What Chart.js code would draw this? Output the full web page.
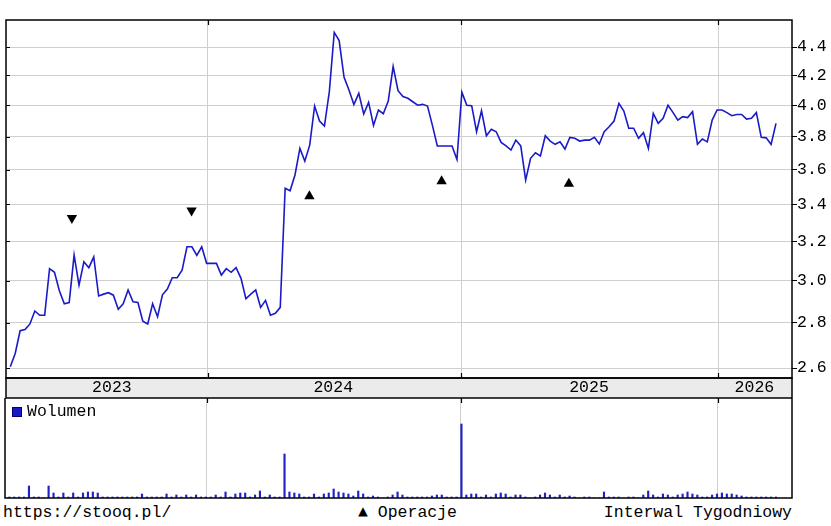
<!DOCTYPE html>
<html>
<head>
<meta charset="utf-8">
<script src="https://cdn.jsdelivr.net/npm/chart.js@4/dist/chart.umd.min.js"></script>
<style>
  html,body{margin:0;padding:0;background:#fff;}
  #wrap{position:relative;width:831px;height:526px;overflow:hidden;background:#fff;}
  .t{position:absolute;font-family:"Liberation Mono",monospace;font-size:16.5px;line-height:16.5px;color:#000;white-space:pre;}
  canvas{position:absolute;left:0;}
</style>
</head>
<body>
<div id="wrap">
  <div class="t" style="left:3px;top:2px;">ATG - 3 lata</div>
  <div class="t" style="left:0;width:831px;text-align:center;top:2px;">27 Mar 2026 18:00 UTC+2</div>
  <div class="t" style="right:39px;top:2px;">(C)Stooq</div>
  <canvas id="price" width="831" height="398" style="top:0;"></canvas>
  <canvas id="vol" width="831" height="101" style="top:398px;"></canvas>
  <div style="position:absolute;left:12px;top:407px;width:8px;height:8px;background:#1818c8;border:1px solid #000070;"></div>
  <div class="t" style="left:27px;top:404px;">Wolumen</div>
  <div class="t" style="left:3px;top:505px;">https://stooq.pl/</div>
  <div class="t" style="left:358px;top:505px;">▲ Operacje</div>
  <div class="t" style="right:39px;top:505px;">Interwal Tygodniowy</div>
</div>
<script>
// ---- data (weekly closes, ATG, last 3 years) ----
const closes = [
2.606,2.663,2.764,2.770,2.795,2.855,2.835,2.835,3.060,3.042,
2.951,2.889,2.895,3.129,2.979,3.095,3.065,3.120,2.926,2.935,
2.942,2.930,2.863,2.889,2.955,2.898,2.895,2.808,2.795,2.889,
2.828,2.932,2.960,3.015,3.015,3.053,3.172,3.172,3.128,3.172,
3.087,3.087,3.087,3.028,3.060,3.042,3.065,3.012,2.913,2.935,
2.955,2.872,2.905,2.835,2.844,2.872,3.491,3.477,3.568,3.727,
3.650,3.747,3.995,3.898,3.866,4.090,4.507,4.447,4.187,4.101,
4.005,4.079,3.943,4.019,3.870,3.969,3.945,4.028,4.262,4.097,
4.057,4.046,4.023,4.000,4.006,3.995,3.870,3.742,3.742,3.742,
3.742,3.660,4.086,4.000,3.997,3.830,3.964,3.805,3.845,3.830,
3.764,3.742,3.717,3.778,3.742,3.538,3.667,3.700,3.681,3.805,
3.772,3.752,3.767,3.723,3.795,3.789,3.772,3.778,3.778,3.795,
3.754,3.830,3.862,3.898,4.012,3.962,3.852,3.852,3.789,3.824,
3.727,3.947,3.883,3.915,4.000,3.954,3.904,3.926,3.920,3.958,
3.752,3.785,3.767,3.904,3.969,3.969,3.952,3.932,3.940,3.940,
3.910,3.915,3.952,3.795,3.792,3.752,3.883
];
const volumes = [
1,1,1,1,12,1,1,0,12,5,
1,5,1,5,1,5,6,6,5,1,
1,1,1,1,1,1,1,4,1,1,
1,1,4,1,3,1,3,1,3,1,
1,1,3,1,6,1,4,5,5,1,
3,7,1,3,1,1,44,6,5,4,
1,1,4,1,4,5,9,6,5,4,
2,7,4,1,2,1,0,1,3,6,
3,1,1,1,1,1,2,3,3,1,
1,1,74,3,4,4,1,3,1,4,
5,4,1,3,3,1,0,1,3,5,
3,1,3,1,2,1,0,1,1,0,
0,6,1,1,1,0,1,1,0,3,
7,3,1,4,3,1,3,4,6,4,
3,1,1,3,4,5,4,4,3,2,
1,1,1,1,1,1,1
];
// operations (Operacje): week position and price level
const opSellX = [12.55, 36.93];
const opSellY = [3.325, 3.366];
const opBuyX  = [60.94, 87.87, 113.8];
const opBuyY  = [3.446, 3.532, 3.517];
// axes
const priceTicks = [2.6, 2.8, 3.0, 3.2, 3.4, 3.6, 3.8, 4.0, 4.2, 4.4];
const yearStarts = [40.22, 91.9, 144.19];
const yearNames  = ['2023', '2024', '2025', '2026'];
const yearLabelAt = [20.7, 65.8, 117.9, 151.6];
const xMin = -0.875, xMax = 159.26;
const yMin = 2.558, yMax = 4.60;

const FONT = {family: "'Liberation Mono', monospace", size: 16.5};
const GRID = '#cfcfcf';
const LINE = '#1a1ac8';

const pricePts = closes.map((v, i) => ({x: i, y: v}));
const sellPts = opSellX.map((x, i) => ({x, y: opSellY[i]}));
const buyPts = opBuyX.map((x, i) => ({x, y: opBuyY[i]}));
const volPts = volumes.map((v, i) => ({x: i, y: v}));

const framePlugin = {
  id: 'frame',
  beforeDraw(chart, args, opts) {
    const {ctx, chartArea: a} = chart;
    ctx.save();
    ctx.fillStyle = '#fff';
    ctx.fillRect(0, 0, chart.width, chart.height);
    if (opts.band) {
      ctx.fillStyle = '#ebebeb';
      ctx.fillRect(a.left, a.bottom, a.right - a.left, opts.band);
      ctx.strokeStyle = '#000';
      ctx.lineWidth = 1.5;
      ctx.strokeRect(a.left, a.bottom, a.right - a.left, opts.band);
    }
    ctx.restore();
  },
  afterDraw(chart, args, opts) {
    const {ctx, chartArea: a} = chart;
    ctx.save();
    ctx.strokeStyle = '#000';
    ctx.lineWidth = 1.5;
    ctx.strokeRect(a.left, a.top, a.right - a.left, a.bottom - a.top);
    ctx.lineWidth = 1.2;
    const xs = chart.scales.x;
    ctx.beginPath();
    yearStarts.forEach(v => {
      const p = Math.round(xs.getPixelForValue(v)) + 0.5;
      ctx.moveTo(p, a.top); ctx.lineTo(p, a.top + 5);
      if (opts.bottomTicks) { ctx.moveTo(p, a.bottom); ctx.lineTo(p, a.bottom - 5); }
    });
    if (opts.leftTicks) {
      const ys = chart.scales.y;
      priceTicks.forEach(v => {
        const p = Math.round(ys.getPixelForValue(v)) + 0.5;
        ctx.moveTo(a.left, p); ctx.lineTo(a.left + 4, p);
      });
    }
    ctx.stroke();
    ctx.restore();
  }
};

new Chart(document.getElementById('price'), {
  type: 'line',
  data: {
    datasets: [
      {data: pricePts, xAxisID: 'x', yAxisID: 'y', borderColor: LINE, borderWidth: 1.6,
       pointRadius: 0, tension: 0, fill: false, order: 2},
      {type: 'scatter', data: sellPts, xAxisID: 'x', yAxisID: 'y', pointStyle: 'triangle',
       rotation: 180, pointRadius: 6, backgroundColor: '#000', borderColor: '#000', borderWidth: 0, order: 1},
      {type: 'scatter', data: buyPts, xAxisID: 'x', yAxisID: 'y', pointStyle: 'triangle',
       rotation: 0, pointRadius: 6, backgroundColor: '#000', borderColor: '#000', borderWidth: 0, order: 1}
    ]
  },
  options: {
    responsive: false, animation: false, devicePixelRatio: 1,
    layout: {padding: {left: 5, right: 0, top: 20, bottom: 0}},
    plugins: {legend: {display: false}, tooltip: {enabled: false},
              frame: {band: 20, leftTicks: true, bottomTicks: true}},
    scales: {
      x: {
        type: 'linear', axis: 'x', position: 'bottom', min: xMin, max: xMax,
        afterBuildTicks: s => { s.ticks = yearStarts.map(v => ({value: v})); },
        afterFit: s => { s.height = 0; },
        ticks: {display: false, autoSkip: false},
        grid: {color: GRID, lineWidth: 1, drawTicks: false},
        border: {display: false}
      },
      xYear: {
        type: 'linear', axis: 'x', position: 'bottom', min: xMin, max: xMax,
        afterBuildTicks: s => { s.ticks = yearLabelAt.map(v => ({value: v})); },
        afterFit: s => { s.height = 20; },
        ticks: {autoSkip: false, maxRotation: 0, padding: 0, color: '#000', font: FONT,
                callback: (v) => { const k = yearLabelAt.indexOf(v); return k >= 0 ? yearNames[k] : ''; }},
        grid: {display: false, drawTicks: false},
        border: {display: false}
      },
      y: {
        type: 'logarithmic', position: 'right', min: yMin, max: yMax,
        afterBuildTicks: s => { s.ticks = priceTicks.map(v => ({value: v})); },
        afterFit: s => { s.width = 39; },
        ticks: {autoSkip: false, padding: 0, color: '#000', font: FONT,
                callback: v => Number(v).toFixed(1)},
        grid: {color: GRID, lineWidth: 1, drawTicks: true, tickLength: 5, tickColor: '#000'},
        border: {display: false}
      }
    }
  },
  plugins: [framePlugin]
});

new Chart(document.getElementById('vol'), {
  type: 'bar',
  data: {
    datasets: [{data: volPts, backgroundColor: '#2222c4', borderWidth: 0,
                barThickness: 1.5, grouped: false}]
  },
  options: {
    responsive: false, animation: false, devicePixelRatio: 1,
    layout: {padding: {left: 5, right: 39, top: 0, bottom: 1}},
    plugins: {legend: {display: false}, tooltip: {enabled: false},
              frame: {band: 0, leftTicks: false, bottomTicks: false}},
    scales: {
      x: {
        type: 'linear', position: 'bottom', min: xMin, max: xMax, offset: false,
        afterBuildTicks: s => { s.ticks = yearStarts.map(v => ({value: v})); },
        afterFit: s => { s.height = 0; },
        ticks: {display: false, autoSkip: false},
        grid: {color: GRID, lineWidth: 1, drawTicks: false, offset: false},
        border: {display: false}
      },
      y: {display: false, min: 0, max: 100}
    }
  },
  plugins: [framePlugin]
});
</script>
</body>
</html>
